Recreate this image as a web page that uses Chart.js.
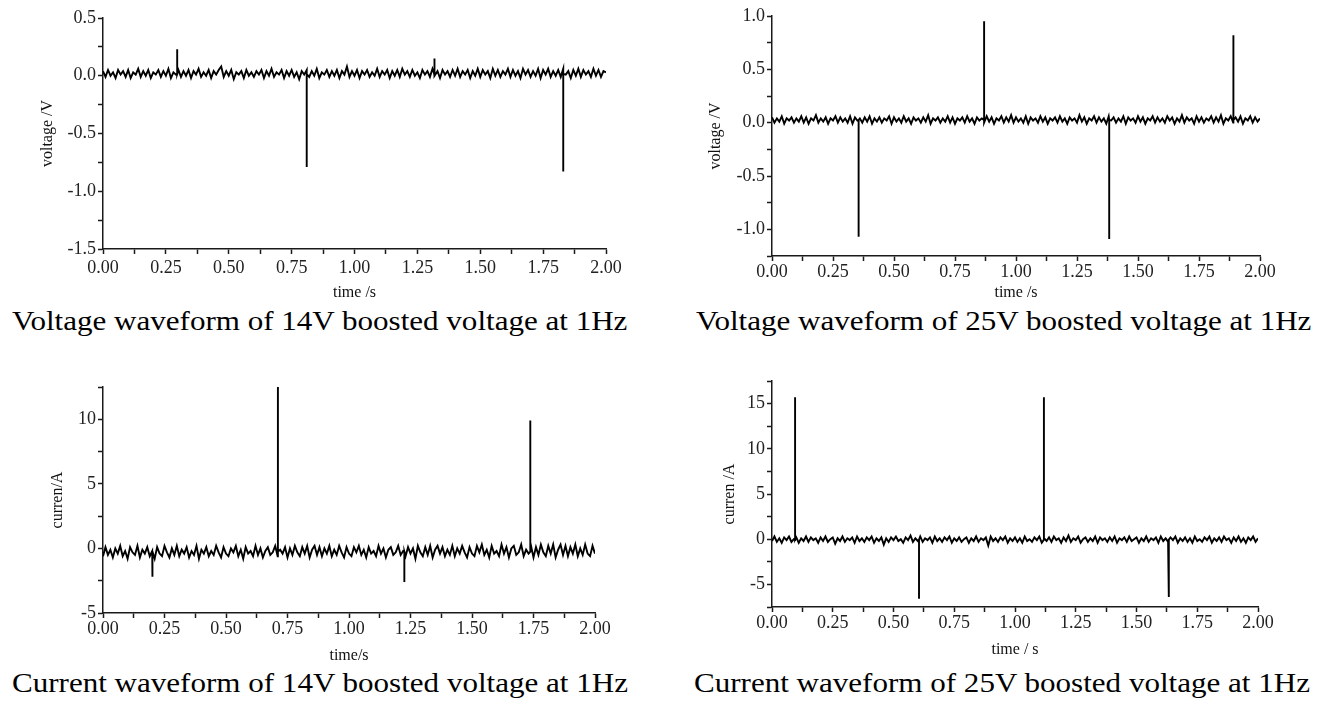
<!DOCTYPE html>
<html>
<head>
<meta charset="utf-8">
<script src="https://cdn.jsdelivr.net/npm/chart.js@4/dist/chart.umd.min.js"></script>
<style>
  body { margin: 0; background: #fff; width: 1336px; height: 701px; overflow: hidden; position: relative; }
  .box { position: absolute; }
  .cap { position: absolute; font-family: "Liberation Serif", serif; font-size: 27px; color: #000;
         white-space: nowrap; line-height: 1; transform-origin: 0 0; transform: scaleX(1.15); }
</style>
</head>
<body>
<div class="box" style="left:0;top:0;width:640px;height:305px"><canvas id="c1"></canvas></div>
<div class="box" style="left:668px;top:0;width:640px;height:305px"><canvas id="c2"></canvas></div>
<div class="box" style="left:0;top:345px;width:640px;height:320px"><canvas id="c3"></canvas></div>
<div class="box" style="left:668px;top:345px;width:640px;height:320px"><canvas id="c4"></canvas></div>

<div class="cap" style="left:12px;top:308px">Voltage waveform of 14V boosted voltage at 1Hz</div>
<div class="cap" style="left:696px;top:308px">Voltage waveform of 25V boosted voltage at 1Hz</div>
<div class="cap" style="left:12px;top:670px">Current waveform of 14V boosted voltage at 1Hz</div>
<div class="cap" style="left:694px;top:670px">Current waveform of 25V boosted voltage at 1Hz</div>

<script>
// sampling step of the noise traces (s)
const sampleStep = 0.01;

// 14V voltage (V)
const noise1 = [0.04,-0.01,0.05,0.00,0.03,-0.02,0.05,0.01,0.04,-0.01,
  0.05,-0.02,0.03,0.01,0.06,-0.01,0.04,0.00,0.05,-0.02,
  0.03,0.01,0.05,-0.01,0.04,0.00,0.06,-0.02,0.03,0.01,
  0.05,-0.01,0.04,0.00,0.05,-0.02,0.04,0.01,0.06,-0.01,
  0.03,0.00,0.05,-0.02,0.04,0.01,0.05,0.08,-0.01,0.04,
  0.00,0.05,-0.03,0.03,0.01,0.04,-0.02,0.05,0.00,0.03,
  -0.01,0.04,0.01,0.05,-0.02,0.04,0.00,0.06,-0.01,0.03,
  0.01,0.05,-0.02,0.04,0.00,0.05,-0.01,0.03,-0.03,0.04,
  0.01,0.05,-0.01,0.04,0.00,0.06,-0.02,0.03,0.01,0.05,
  -0.01,0.04,0.00,0.05,-0.02,0.04,0.01,0.08,-0.01,0.04,
  0.00,0.05,-0.02,0.04,0.01,0.05,-0.01,0.03,0.00,0.06,
  -0.01,0.04,0.01,0.05,-0.02,0.04,0.00,0.05,-0.01,0.06,
  0.01,0.04,-0.01,0.05,0.00,0.03,-0.02,0.05,0.01,0.04,
  -0.01,0.06,0.00,0.04,-0.02,0.05,0.01,0.04,-0.01,0.05,
  0.00,0.06,-0.01,0.04,0.01,0.05,-0.02,0.04,0.00,0.06,
  -0.01,0.05,0.01,0.04,-0.02,0.06,0.00,0.05,-0.01,0.04,
  0.01,0.06,-0.01,0.05,0.00,0.04,-0.02,0.06,0.01,0.05,
  -0.01,0.04,0.00,0.06,-0.02,0.05,0.01,0.06,-0.01,0.04,
  0.00,0.05,-0.01,0.06,0.01,0.04,-0.02,0.05,0.00,0.06,
  -0.01,0.05,0.01,0.04,-0.01,0.06,0.00,0.05,-0.01,0.04,
  0.03];
const spikeTimes1 = [0.295, 0.81, 1.317, 1.83];
const spikeValues1 = [0.23, -0.79, 0.15, -0.83];
const base1 = 0.015;

// 25V voltage (V)
const noise2 = [0.05,0.00,0.04,0.01,0.06,-0.01,0.04,0.02,0.05,0.00,
  0.04,0.01,0.06,0.00,0.05,-0.01,0.04,0.02,0.07,0.00,
  0.04,0.01,0.05,-0.01,0.04,0.02,0.06,0.00,0.05,0.01,
  0.04,0.00,0.06,-0.01,0.05,0.02,0.04,0.00,0.05,0.01,
  0.06,-0.01,0.04,0.01,0.05,0.00,0.04,0.02,0.06,-0.01,
  0.05,0.01,0.04,0.00,0.06,0.01,0.04,-0.01,0.05,0.02,
  0.04,0.00,0.05,0.01,0.07,-0.01,0.04,0.02,0.05,0.00,
  0.04,0.01,0.06,0.00,0.05,-0.01,0.04,0.02,0.05,0.00,
  0.06,0.01,0.04,-0.01,0.05,0.02,0.04,0.00,0.06,0.01,
  0.05,-0.01,0.04,0.02,0.06,0.00,0.05,0.01,0.07,0.00,
  0.05,0.01,0.04,0.00,0.06,-0.01,0.05,0.02,0.04,0.00,
  0.06,0.01,0.05,-0.01,0.04,0.02,0.05,0.00,0.06,0.01,
  0.04,-0.01,0.05,0.02,0.04,0.00,0.07,0.01,0.05,-0.01,
  0.04,0.02,0.06,0.00,0.05,0.01,0.04,-0.01,0.06,0.02,
  0.05,0.00,0.04,0.01,0.06,-0.01,0.05,0.02,0.04,0.00,
  0.06,0.01,0.05,-0.01,0.04,0.02,0.06,0.00,0.05,0.01,
  0.04,0.00,0.06,0.02,0.05,-0.01,0.04,0.01,0.07,0.00,
  0.05,0.02,0.04,-0.01,0.06,0.01,0.05,0.00,0.04,0.02,
  0.06,0.00,0.05,0.01,0.07,-0.01,0.04,0.02,0.06,0.00,
  0.05,0.01,0.06,-0.01,0.04,0.02,0.06,0.00,0.05,0.01,
  0.04];
const spikeTimes2 = [0.355, 0.869, 1.382, 1.891];
const spikeValues2 = [-1.07, 0.95, -1.09, 0.82];
const base2 = 0.025;

// 14V current (A)
const noise3 = [-0.6,0.1,-0.5,-0.1,-0.7,0.0,-0.4,0.2,-0.6,-0.2,
  -0.8,0.1,-0.3,-0.5,0.2,-0.7,-0.1,-0.4,0.1,-0.6,
  -0.2,-0.8,0.1,-0.4,-0.6,0.2,-0.3,-0.7,0.0,-0.5,
  0.2,-0.6,-0.1,-0.4,0.1,-0.7,-0.2,-0.5,0.2,-0.8,
  -0.1,-0.4,0.1,-0.6,-0.2,-0.5,0.2,-0.3,-0.7,0.1,
  -0.4,-0.6,0.0,-0.3,0.2,-0.6,-0.1,-0.8,0.1,-0.4,
  -0.2,-0.6,0.2,-0.5,0.0,-0.7,-0.2,0.1,-0.5,-0.3,
  0.2,-0.6,-0.1,-0.4,0.1,-0.7,0.0,-0.5,0.2,-0.3,
  -0.6,0.1,-0.4,0.2,-0.7,-0.1,0.2,-0.5,0.1,-0.6,
  0.0,-0.4,0.2,-0.6,-0.1,-0.5,0.2,-0.3,-0.7,0.1,
  -0.4,-0.6,0.1,-0.3,0.2,-0.5,-0.1,-0.7,0.1,-0.4,
  -0.2,-0.6,0.2,-0.4,0.0,-0.7,-0.1,0.1,-0.5,-0.3,
  0.2,-0.5,-0.2,-0.6,0.1,-0.4,0.0,-0.8,0.2,-0.3,
  -0.6,0.1,-0.5,0.2,-0.7,-0.1,0.2,-0.4,0.1,-0.6,
  -0.1,-0.5,0.2,-0.6,0.0,-0.4,0.2,-0.3,-0.7,0.1,
  -0.4,-0.6,0.2,-0.3,0.3,-0.5,-0.1,-0.7,0.2,-0.4,
  -0.2,-0.6,0.3,-0.4,0.1,-0.7,0.0,0.2,-0.5,-0.3,
  0.3,-0.6,-0.1,-0.4,0.2,-0.7,0.1,-0.5,0.3,-0.3,
  -0.6,0.2,-0.4,0.3,-0.7,-0.1,0.3,-0.5,0.2,-0.6,
  0.1,-0.4,0.3,-0.6,0.0,-0.5,0.3,-0.4,-0.6,0.2,
  -0.4];
const spikeTimes3 = [0.201, 0.711, 1.225, 1.737];
const spikeValues3 = [-2.2, 12.5, -2.6, 9.9];
const base3 = -0.25;

// 25V current (A)
const noise4 = [-0.2,0.3,-0.3,0.1,-0.4,0.2,-0.1,0.3,-0.3,0.0,
  0.2,-0.4,0.1,-0.2,0.3,-0.3,0.2,-0.1,0.1,-0.4,
  0.2,-0.2,0.3,-0.3,0.0,0.2,-0.5,0.1,-0.2,0.3,
  -0.3,0.1,-0.1,0.2,-0.4,0.3,-0.2,0.1,-0.3,0.2,
  -0.1,0.3,-0.4,0.1,-0.2,0.2,-0.6,0.1,-0.3,0.2,
  -0.1,0.3,-0.2,0.0,-0.4,0.2,-0.1,0.4,-0.3,0.1,
  -0.2,0.3,-0.3,0.1,-0.1,0.2,-0.4,0.3,-0.2,0.1,
  -0.3,0.2,-0.1,0.3,-0.4,0.1,-0.2,0.2,-0.3,0.0,
  0.2,-0.4,0.1,-0.2,0.3,-0.3,0.1,-0.1,0.2,-0.7,
  0.3,-0.2,0.1,-0.3,0.2,-0.1,0.3,-0.4,0.1,-0.2,
  0.2,-0.3,0.1,-0.4,0.3,-0.2,0.0,-0.3,0.2,-0.1,
  0.3,-0.4,0.1,-0.2,0.2,-0.3,0.3,-0.1,0.1,-0.4,
  0.2,-0.2,0.4,-0.3,0.1,-0.1,0.3,-0.4,0.0,0.2,
  -0.3,0.1,-0.2,0.3,-0.4,0.2,-0.1,0.1,-0.3,0.2,
  -0.2,0.3,-0.4,0.1,-0.1,0.2,-0.3,0.3,-0.2,0.0,
  0.2,-0.4,0.1,-0.2,0.3,-0.3,0.1,-0.1,0.2,-0.4,
  0.3,-0.2,0.1,-0.3,0.2,-0.1,0.3,-0.4,0.1,-0.2,
  0.2,-0.3,0.1,-0.4,0.3,-0.2,0.0,-0.3,0.2,-0.1,
  0.3,-0.4,0.1,-0.2,0.2,-0.3,0.3,-0.1,0.1,-0.4,
  0.2,-0.2,0.3,-0.3,0.1,-0.4,0.2,-0.1,0.3,-0.3,
  0.1];
const spikeTimes4 = [0.095, 0.605, 1.119, 1.633];
const spikeValues4 = [15.7, -6.6, 15.7, -6.4];
const base4 = -0.05;

const serif = "'Liberation Serif', 'Times New Roman', serif";
const ink = '#1a1a1a';

// noise samples plus a vertical stroke for every spike
function buildPoints(noise, times, values, base) {
  const pts = noise.map((v, i) => ({ x: i * sampleStep, y: v }));
  times.forEach((t, i) => {
    pts.push({ x: t, y: base }, { x: t, y: values[i] }, { x: t, y: base });
  });
  return pts.sort((a, b) => a.x - b.x);
}

function clean(v) { return Math.abs(v) < 1e-9 ? 0 : v; }

function makeChart(id, g, pts, y) {
  new Chart(document.getElementById(id), {
    type: 'scatter',
    data: {
      datasets: [{
        data: pts,
        showLine: true,
        borderColor: '#000',
        borderWidth: 1.9,
        pointRadius: 0,
        tension: 0
      }]
    },
    options: {
      responsive: true,
      maintainAspectRatio: false,
      animation: false,
      layout: { padding: { left: 0, top: g.top, right: g.right, bottom: 0 } },
      plugins: { legend: { display: false }, tooltip: { enabled: false } },
      scales: {
        x: {
          type: 'linear', min: 0, max: 2,
          afterFit: s => { s.height = g.xh; },
          border: { color: ink, width: 1.5 },
          grid: { drawOnChartArea: false, tickLength: 5, tickColor: ink, tickWidth: 1.5 },
          ticks: {
            stepSize: 0.125, autoSkip: false, maxRotation: 0, padding: g.xpad,
            color: '#222', font: { family: serif, size: 18 },
            callback: v => Math.round(v * 8) % 2 === 0 ? clean(v).toFixed(2) : ''
          },
          title: { display: true, text: g.xt, color: '#111', font: { family: serif, size: 16 },
                   padding: { top: 0, bottom: g.xtb } }
        },
        y: {
          type: 'linear', min: y.min, max: y.max,
          afterFit: s => { s.width = g.yw; },
          border: { color: ink, width: 1.5 },
          grid: { drawOnChartArea: false, tickLength: 5, tickColor: ink, tickWidth: 1.5 },
          ticks: {
            stepSize: y.step, autoSkip: false, padding: 2,
            color: '#222', font: { family: serif, size: 18 },
            callback: v => Math.round(v / y.step) % 2 === 0 ? clean(v).toFixed(y.dec) : ''
          },
          title: { display: true, text: y.title, color: '#111', font: { family: serif, size: 16 },
                   padding: { top: g.ytp, bottom: 0 } }
        }
      }
    }
  });
}

makeChart('c1', { top: 18, right: 34, xh: 56, yw: 103, xpad: 3, xtb: 2.4, ytp: 38, xt: 'time /s' },
  buildPoints(noise1, spikeTimes1, spikeValues1, base1),
  { min: -1.5, max: 0.5, step: 0.25, dec: 1, title: 'voltage /V' });

makeChart('c2', { top: 16, right: 48, xh: 49, yw: 104, xpad: 0, xtb: 2.4, ytp: 38, xt: 'time /s' },
  buildPoints(noise2, spikeTimes2, spikeValues2, base2),
  { min: -1.25, max: 1.0, step: 0.25, dec: 1, title: 'voltage /V' });

makeChart('c3', { top: 42, right: 45, xh: 52, yw: 103, xpad: 0, xtb: 0, ytp: 48, xt: 'time/s' },
  buildPoints(noise3, spikeTimes3, spikeValues3, base3),
  { min: -5, max: 12.5, step: 2.5, dec: 0, title: 'curren/A' });

makeChart('c4', { top: 36, right: 50, xh: 58, yw: 104, xpad: 0, xtb: 5.4, ytp: 52, xt: 'time / s' },
  buildPoints(noise4, spikeTimes4, spikeValues4, base4),
  { min: -7.5, max: 17.5, step: 2.5, dec: 0, title: 'curren /A' });
</script>
</body>
</html>
